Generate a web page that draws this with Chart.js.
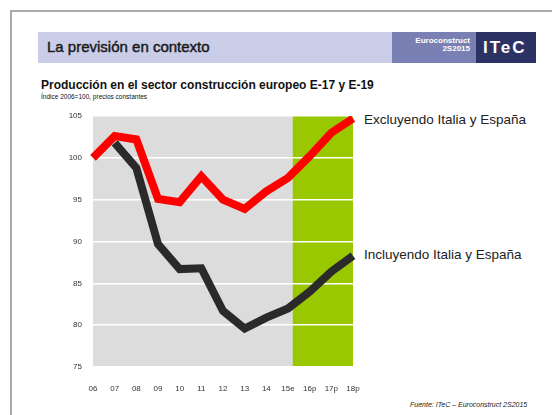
<!DOCTYPE html>
<html>
<head>
<meta charset="utf-8">
<script src="https://cdn.jsdelivr.net/npm/chart.js@4.4.1/dist/chart.umd.min.js"></script>
<style>
  html, body { margin: 0; padding: 0; background: #fff; }
  body { width: 552px; height: 415px; position: relative; overflow: hidden;
         font-family: "Liberation Sans", Arial, sans-serif; color: #111; }
  .frame { position: absolute; left: 10px; top: 10px; width: 600px; height: 500px;
           border-left: 2px solid #aaa; border-top: 2px solid #aaa; }
  .bar { position: absolute; top: 32px; height: 31px; }
  .abs { position: absolute; white-space: nowrap; }
  #chart { position: absolute; left: 0; top: 0; }
</style>
</head>
<body>
<div class="frame"></div>
<div class="bar" style="left:38px;width:354px;background:#c9cde8;"></div>
<div class="bar" style="left:392px;width:84px;background:#7a80b3;"></div>
<div class="bar" style="left:476px;width:60px;background:#2c3264;"></div>
<div class="abs" style="left:47px;top:38px;font-size:15px;-webkit-text-stroke:0.45px #1a1a1a;color:#1a1a1a;">La previsión en contexto</div>
<div class="abs" style="left:400px;top:37px;width:70px;text-align:right;font-size:8px;line-height:8px;font-weight:bold;color:#fff;">Euroconstruct<br>2S2015</div>
<div class="abs" style="left:483px;top:38px;font-size:17px;font-weight:bold;letter-spacing:2px;color:#fff;">ITeC</div>
<div class="abs" style="left:41px;top:78px;font-size:12px;font-weight:bold;">Producción en el sector construcción europeo E-17 y E-19</div>
<div class="abs" style="left:41px;top:93px;font-size:6.5px;">Índice 2006=100, precios constantes</div>
<div class="abs" style="left:364px;top:112px;font-size:13.5px;color:#222;">Excluyendo Italia y España</div>
<div class="abs" style="left:364px;top:247px;font-size:13.5px;color:#222;">Incluyendo Italia y España</div>
<div class="abs" style="left:410px;top:401px;font-size:7px;font-style:italic;color:#222;">Fuente: ITeC – Euroconstruct 2S2015</div>
<canvas id="chart" width="552" height="415"></canvas>
<script>
const years = ['06', '07', '08', '09', '10', '11', '12', '13', '14', '15e', '16p', '17p', '18p'];
const excluyendo = [100, 102.6, 102.2, 95.1, 94.7, 97.8, 95.0, 93.9, 96.0, 97.6, 100.2, 103.0, 104.7];
const incluyendo = [null, 101.8, 98.8, 89.7, 86.7, 86.8, 81.7, 79.6, 80.9, 82.0, 84.0, 86.4, 88.3];
const forecastStart = 9.22; // green band starts just after 15e

// gray plot background + green forecast band
const bandPlugin = {
  id: 'band',
  beforeDraw(chart) {
    const { ctx, chartArea: a, scales } = chart;
    const x = scales.x;
    const i = Math.floor(forecastStart);
    const x0 = x.getPixelForValue(i) + (x.getPixelForValue(i + 1) - x.getPixelForValue(i)) * (forecastStart - i);
    ctx.save();
    ctx.fillStyle = '#dcdcdc';
    ctx.fillRect(a.left, a.top, a.right - a.left, a.bottom - a.top);
    ctx.fillStyle = '#99c800';
    ctx.fillRect(x0, a.top, a.right - x0, a.bottom - a.top);
    ctx.restore();
  }
};

new Chart(document.getElementById('chart'), {
  type: 'line',
  data: {
    labels: years,
    datasets: [
      {
        label: 'Incluyendo Italia y España',
        data: incluyendo,
        borderColor: '#2a2a2a',
        borderWidth: 8,
        pointRadius: 0,
        tension: 0,
        order: 2,
      },
      {
        label: 'Excluyendo Italia y España',
        data: excluyendo,
        borderColor: '#ff0000',
        borderWidth: 8,
        pointRadius: 0,
        tension: 0,
        order: 1,
      },
    ],
  },
  options: {
    responsive: false,
    animation: false,
    layout: { padding: { top: 116, right: 199, left: 0, bottom: 0 } },
    plugins: { legend: { display: false }, tooltip: { enabled: false } },
    scales: {
      x: {
        offset: false,
        grid: { display: false },
        border: { display: false },
        ticks: { color: '#333', font: { size: 8, family: 'Liberation Sans' }, padding: 9, maxRotation: 0, autoSkip: false },
        afterFit(axis) { axis.height = 48; },
      },
      y: {
        min: 75,
        max: 105,
        grid: { color: '#ffffff', lineWidth: 1.5, drawTicks: false },
        border: { display: false },
        ticks: { stepSize: 5, color: '#333', font: { size: 8, family: 'Liberation Sans' }, padding: 11 },
        afterFit(axis) { axis.width = 93; },
      },
    },
  },
  plugins: [bandPlugin],
});
</script>
</body>
</html>
